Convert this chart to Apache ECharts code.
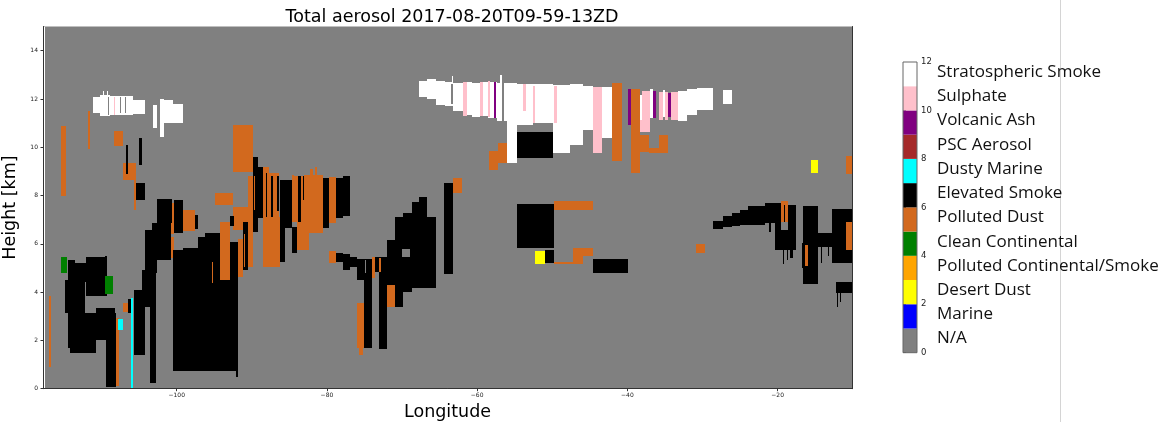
<!DOCTYPE html>
<html>
<head>
<meta charset="utf-8">
<script src="https://cdn.jsdelivr.net/npm/echarts@6/dist/echarts.min.js"></script>
<style>
  html, body { margin: 0; padding: 0; background: #ffffff; }
  #chart { width: 1167px; height: 422px; }
</style>
</head>
<body>
<div id="chart"></div>
<script>
// Aerosol subtype classes (index = class value on the colour bar)
const classNames = ['N/A', 'Marine', 'Desert Dust', 'Polluted Continental/Smoke', 'Clean Continental',
  'Polluted Dust', 'Elevated Smoke', 'Dusty Marine', 'PSC Aerosol', 'Volcanic Ash', 'Sulphate', 'Stratospheric Smoke'];
const classColors = ['#808080', '#0000ff', '#ffff00', '#ffa500', '#008000', '#d2691e',
  '#000000', '#00ffff', '#a52a2a', '#800080', '#ffc0cb', '#ffffff'];

const lonTicks = [-100, -80, -60, -40, -20];
const heightTicks = [0, 2, 4, 6, 8, 10, 12, 14];
const colorbarTicks = [0, 2, 4, 6, 8, 10, 12];

// Layer cells: [lonWest, lonEast, heightBottom, heightTop] in degrees / km
const stratosphericSmoke = [
  [-117.8, -117.6, 0, 15],
  [-111.18, -110.21, 11.41, 12.08], [-110.21, -108.88, 11.30, 12.17], [-108.88, -105.78, 11.34, 12.13],
  [-105.78, -104.22, 11.37, 11.96], [-109.8, -109.65, 12.1, 12.32], [-109.3, -109.15, 12.1, 12.32],
  [-103.15, -102.62, 10.80, 11.76], [-102.22, -101.68, 10.43, 12.01], [-101.68, -99.16, 11.01, 11.80],
  [-101.68, -100.49, 11.75, 11.96],
  [-67.71, -66.72, 12.10, 12.76], [-66.72, -65.48, 11.99, 12.83], [-65.48, -64.28, 11.76, 12.76],
  [-64.28, -63.18, 11.69, 12.72], [-63.18, -61.85, 11.48, 12.68], [-61.85, -60.73, 11.34, 12.72],
  [-60.73, -59.63, 11.27, 12.68], [-59.63, -58.52, 11.30, 12.72], [-58.52, -57.40, 11.21, 12.72],
  [-57.40, -56.07, 11.07, 12.68], [-56.07, -54.74, 9.34, 12.66], [-54.74, -52.53, 10.93, 12.63],
  [-52.53, -49.87, 11.00, 12.63], [-49.87, -47.65, 9.76, 12.59], [-47.65, -45.88, 10.10, 12.63],
  [-45.88, -44.63, 10.72, 12.52], [-43.43, -42.10, 10.38, 12.49], [-38.33, -38.0, 11.14, 12.17],
  [-37.0, -36.56, 11.21, 12.41], [-35.2, -35.0, 11.25, 12.35], [-33.23, -32.11, 11.07, 12.31],
  [-32.11, -30.78, 11.34, 12.41], [-30.78, -28.57, 11.55, 12.45], [-27.32, -26.12, 11.79, 12.35],
  [-63.4, -63.25, 12.6, 12.95], [-56.9, -56.75, 12.6, 12.98]
];

const sulphate = [
  [-108.35, -108.2, 11.35, 12.1], [-61.9, -61.4, 11.3, 12.7], [-59.63, -59.2, 11.3, 12.7],
  [-58.6, -58.35, 11.25, 12.75], [-53.86, -53.5, 11.5, 12.6], [-52.53, -52.3, 11.0, 12.55],
  [-49.78, -49.42, 11.0, 12.55], [-44.63, -43.43, 9.76, 12.49], [-38.0, -37.0, 10.65, 12.31],
  [-38.33, -38.0, 10.65, 11.14], [-35.76, -35.2, 11.14, 12.30], [-35.0, -34.56, 11.14, 12.30],
  [-34.15, -33.23, 11.14, 12.30]
];

const pollutedDust = [
  [-115.35, -114.75, 7.96, 10.87], [-111.81, -111.5, 9.92, 11.48], [-108.35, -107.15, 10.07, 10.68],
  [-107.15, -105.38, 8.65, 9.34], [-105.72, -105.38, 7.40, 8.65], [-116.98, -116.69, 0.91, 3.84],
  [-108.08, -107.72, 0.12, 2.92], [-107.11, -106.35, 3.19, 3.54], [-100.7, -100.3, 6.4, 7.7],
  [-99.2, -97.6, 6.55, 7.4], [-100.75, -100.4, 5.4, 6.3], [-94.9, -92.51, 7.61, 8.10],
  [-92.51, -89.8, 8.98, 10.93], [-94.24, -92.91, 4.5, 6.92], [-92.5, -90.47, 6.58, 7.54],
  [-91.84, -91.13, 4.64, 6.2], [-90.47, -89.8, 5.06, 8.79], [-88.47, -87.67, 5.9, 9.2],
  [-88.47, -86.25, 5.06, 7.13], [-87.67, -86.34, 5.26, 8.93], [-84.69, -84.38, 6.9, 8.86],
  [-84.38, -83.06, 6.9, 8.79], [-84.03, -82.35, 5.75, 7.0], [-83.06, -80.57, 6.44, 8.86],
  [-82.2, -81.8, 8.86, 9.1], [-81.6, -81.3, 8.86, 9.2], [-79.69, -78.80, 6.85, 8.76],
  [-79.69, -78.80, 5.20, 5.71], [-75.96, -75.07, 1.67, 3.54], [-75.7, -75.2, 1.4, 1.67],
  [-74.04, -73.6, 4.57, 5.47], [-72.05, -70.94, 3.40, 4.30], [-63.18, -62.06, 8.10, 8.72],
  [-58.39, -57.19, 9.06, 9.86], [-57.19, -56.07, 9.34, 10.19], [-42.10, -40.77, 9.45, 12.65],
  [-39.57, -38.33, 8.93, 12.41], [-38.33, -37.09, 9.82, 10.51], [-37.09, -35.76, 9.75, 9.96],
  [-35.76, -34.56, 9.75, 10.51], [-49.78, -44.63, 7.38, 7.79], [-47.21, -44.63, 5.5, 5.82],
  [-47.21, -45.9, 5.17, 5.5], [-49.78, -47.21, 5.17, 5.24], [-30.87, -29.68, 5.61, 6.00],
  [-10.91, -10.11, 8.90, 9.64], [-19.56, -18.58, 6.92, 7.79]
];

const elevatedSmoke = [
  [-106.79, -106.44, 8.9, 10.1], [-105.02, -104.66, 9.26, 10.4], [-105.38, -104.26, 7.81, 8.52],
  [-102.66, -100.67, 6.85, 7.86], [-103.33, -100.75, 5.33, 6.87], [-104.22, -102.66, 4.78, 6.57],
  [-104.6, -102.76, 4.09, 4.92], [-105.68, -102.76, 3.40, 4.09], [-105.68, -104.26, 1.40, 3.40],
  [-103.55, -102.76, 0.24, 3.40], [-106.44, -106.12, 3.12, 3.70], [-100.3, -99.2, 6.45, 7.8],
  [-97.6, -97.2, 6.6, 7.2],
  [-114.87, -114.47, 3.13, 4.5], [-114.47, -113.54, 1.67, 5.33], [-113.54, -112.07, 4.43, 5.2],
  [-113.54, -112.2, 3.13, 4.43], [-112.07, -109.28, 3.84, 5.45], [-109.54, -109.28, 4.67, 5.5],
  [-114.2, -110.7, 1.48, 3.13], [-110.7, -108.25, 2.02, 3.33], [-109.37, -108.08, 0.08, 3.12],
  [-100.49, -91.80, 0.75, 4.5], [-92.1, -91.80, 0.5, 0.75], [-100.49, -99.16, 4.5, 5.75],
  [-99.16, -97.16, 4.5, 5.83], [-97.16, -96.23, 4.5, 6.30], [-96.23, -94.24, 4.5, 6.45],
  [-92.91, -91.84, 4.5, 6.09], [-92.91, -92.4, 6.75, 7.15], [-91.13, -90.47, 4.92, 6.92],
  [-89.88, -89.14, 6.51, 9.61], [-89.14, -88.47, 7.06, 9.20], [-88.15, -87.94, 7.13, 8.93],
  [-87.4, -87.14, 7.13, 8.79], [-86.69, -86.34, 7.34, 8.79], [-86.25, -85.58, 5.26, 8.65],
  [-85.58, -84.69, 6.65, 8.65], [-84.69, -84.03, 5.61, 6.71], [-83.8, -83.4, 6.9, 8.79],
  [-83.2, -83.0, 7.8, 8.79], [-80.57, -79.69, 6.65, 8.72], [-78.80, -77.90, 7.06, 8.72],
  [-77.90, -76.93, 7.16, 8.79],
  [-78.80, -77.90, 5.26, 5.64], [-77.90, -76.93, 4.92, 5.57], [-76.93, -75.96, 5.06, 5.47],
  [-75.96, -75.07, 4.50, 5.36], [-75.07, -74.04, 1.67, 5.36], [-73.6, -73.03, 4.85, 5.47],
  [-73.03, -72.05, 1.63, 5.47], [-72.05, -70.94, 4.30, 6.16], [-70.94, -69.88, 3.40, 7.13],
  [-69.88, -68.72, 4.02, 7.27], [-68.72, -67.71, 4.16, 7.75], [-67.71, -66.64, 4.16, 7.92],
  [-66.64, -65.48, 4.16, 7.13], [-64.38, -63.18, 4.75, 8.51],
  [-54.74, -49.87, 9.55, 10.65], [-54.74, -49.78, 5.82, 7.64], [-50.98, -49.78, 5.20, 5.75],
  [-44.63, -39.89, 4.81, 5.36],
  [-28.57, -27.32, 6.61, 6.95], [-27.32, -26.12, 6.69, 7.16], [-26.12, -25.02, 6.74, 7.27],
  [-25.02, -23.91, 6.78, 7.38], [-23.91, -21.69, 6.78, 7.57], [-21.69, -19.56, 6.85, 7.68],
  [-21.2, -20.9, 6.5, 6.85], [-20.36, -17.69, 5.75, 6.58], [-20.36, -19.56, 6.5, 6.9],
  [-19.2, -19.0, 6.92, 7.6], [-18.58, -17.56, 5.75, 7.61], [-19.3, -19.1, 5.15, 5.75],
  [-18.8, -18.6, 5.35, 5.75], [-18.3, -18.0, 5.4, 5.75], [-16.59, -14.60, 4.34, 7.57],
  [-16.80, -16.59, 5.0, 6.03], [-14.60, -12.60, 5.88, 6.44], [-14.25, -14.1, 5.2, 5.88],
  [-13.3, -13.1, 5.5, 5.88], [-12.81, -10.11, 5.20, 7.43], [-12.24, -10.11, 3.95, 4.43],
  [-12.1, -11.9, 3.4, 3.95], [-11.7, -11.5, 3.6, 3.95]
];

// Polluted-dust cells embedded inside smoke layers
const dustStreaks = [
  [-95.34, -95.13, 4.39, 5.26], [-91.0, -90.85, 5.05, 6.4], [-89.75, -89.6, 7.4, 8.8],
  [-73.03, -72.77, 4.85, 5.4], [-16.32, -16.0, 5.08, 5.96], [-10.91, -10.11, 5.75, 6.92]
];

const volcanicAsh = [
  [-57.75, -57.44, 11.21, 12.72], [-39.89, -39.57, 10.93, 12.41],
  [-36.56, -36.25, 11.21, 12.31], [-34.56, -34.15, 11.25, 12.24]
];

const dustyMarine = [[-107.77, -107.19, 2.43, 2.89], [-106.08, -105.78, 0, 3.77]];
const cleanContinental = [[-115.40, -114.60, 4.78, 5.47], [-109.54, -108.44, 3.92, 4.67]];
const desertDust = [[-52.31, -50.98, 5.17, 5.72], [-15.57, -14.60, 8.95, 9.48]];

// Unclassified gaps inside layers
const noData = [
  [-69.95, -68.9, 5.47, 5.78], [-56.7, -56.45, 11.07, 12.7], [-63.45, -63.25, 11.8, 12.6],
  [-74.95, -74.75, 4.8, 5.33], [-109.1, -108.95, 11.35, 12.1], [-107.55, -107.4, 11.4, 12.1],
  [-106.9, -106.75, 11.4, 12.1]
];

// Draw order: later layers paint over earlier ones
const layers = [
  { data: stratosphericSmoke, cls: 11 },
  { data: sulphate, cls: 10 },
  { data: pollutedDust, cls: 5 },
  { data: elevatedSmoke, cls: 6 },
  { data: dustStreaks, cls: 5 },
  { data: volcanicAsh, cls: 9 },
  { data: dustyMarine, cls: 7 },
  { data: cleanContinental, cls: 4 },
  { data: desertDust, cls: 2 },
  { data: noData, cls: 0 }
];

const LON_MIN = -117.8, LON_MAX = -10.1;
const FONT = 'DejaVu Sans';

function cellRenderer(color) {
  return function (params, api) {
    const a = api.coord([api.value(0), api.value(3)]);
    const b = api.coord([api.value(1), api.value(2)]);
    const x0 = Math.round(a[0]), y0 = Math.round(a[1]);
    const x1 = Math.round(b[0]), y1 = Math.round(b[1]);
    return {
      type: 'rect',
      shape: { x: x0, y: y0, width: Math.max(1, x1 - x0), height: Math.max(1, y1 - y0) },
      style: { fill: color }
    };
  };
}

const minus = v => String(v).replace('-', '\u2212');

const curtainSeries = layers.map(l => ({
  type: 'custom',
  xAxisIndex: 0, yAxisIndex: 0,
  silent: true, clip: true,
  renderItem: cellRenderer(classColors[l.cls]),
  data: l.data
}));

const colorbarSeries = {
  type: 'custom',
  xAxisIndex: 1, yAxisIndex: 1,
  silent: true, clip: false,
  data: classNames.map((n, i) => [i]),
  renderItem: function (params, api) {
    const i = api.value(0);
    const tl = api.coord([0, i + 1]);
    const br = api.coord([1, i]);
    const children = [
      { type: 'rect', shape: { x: tl[0], y: tl[1], width: br[0] - tl[0], height: br[1] - tl[1] },
        style: { fill: classColors[i] } },
      { type: 'text', x: br[0] + 20, y: (tl[1] + br[1]) / 2 - 2,
        style: { text: classNames[i], fontFamily: 'Open Sans', fontSize: 17, fill: '#111',
                 align: 'left', verticalAlign: 'middle' } }
    ];
    if (i === classNames.length - 1) {
      const top = api.coord([0, classNames.length]);
      const bottom = api.coord([1, 0]);
      children.push({ type: 'rect', shape: { x: top[0], y: top[1], width: bottom[0] - top[0], height: bottom[1] - top[1] },
        style: { fill: 'none', stroke: '#666', lineWidth: 1 }, z2: 10 });
    }
    return { type: 'group', children };
  }
};

const frameLine = { show: true, lineStyle: { color: '#333', width: 1 } };

const option = {
  animation: false,
  backgroundColor: '#ffffff',
  title: {
    text: 'Total aerosol 2017-08-20T09-59-13ZD',
    left: 447, textAlign: 'center', top: 3,
    textStyle: { fontFamily: FONT, fontSize: 17.5, fontWeight: 'normal', color: '#000' }
  },
  grid: [
    { left: 43, top: 26.5, width: 809, height: 362.2, show: true, backgroundColor: '#808080', borderWidth: 0,
      containLabel: false, outerBoundsMode: 'none' },
    { left: 903, top: 62, width: 14, height: 290.7, show: false, containLabel: false, outerBoundsMode: 'none' }
  ],
  xAxis: [
    {
      type: 'value', gridIndex: 0, min: LON_MIN, max: LON_MAX, z: 5,
      name: 'Longitude', nameLocation: 'middle', nameGap: 12,
      nameTextStyle: { fontFamily: FONT, fontSize: 17.5, color: '#000' },
      axisLine: frameLine,
      axisTick: { show: true, customValues: lonTicks, length: 2.5, lineStyle: { color: '#333' } },
      axisLabel: { customValues: lonTicks, formatter: minus, fontFamily: FONT, fontSize: 6, color: '#222', margin: 4 },
      splitLine: { show: false }
    },
    { type: 'value', gridIndex: 1, min: 0, max: 1, show: false },
    {
      type: 'value', gridIndex: 0, min: LON_MIN, max: LON_MAX, position: 'top', z: 5,
      axisLine: frameLine, axisTick: { show: false }, axisLabel: { show: false }, splitLine: { show: false }
    }
  ],
  yAxis: [
    {
      type: 'value', gridIndex: 0, min: 0, max: 15, z: 5,
      name: 'Height [km]', nameLocation: 'middle', nameGap: 16,
      nameTextStyle: { fontFamily: FONT, fontSize: 17.5, color: '#000' },
      axisLine: frameLine,
      axisTick: { show: true, customValues: heightTicks, length: 2.5, lineStyle: { color: '#333' } },
      axisLabel: { customValues: heightTicks, fontFamily: FONT, fontSize: 6, color: '#222', margin: 5 },
      splitLine: { show: false }
    },
    {
      type: 'value', gridIndex: 1, min: 0, max: 12, position: 'right',
      axisLine: { show: false },
      axisTick: { show: true, customValues: colorbarTicks, length: 3, lineStyle: { color: '#444' } },
      axisLabel: { customValues: colorbarTicks, fontFamily: FONT, fontSize: 8.5, color: '#222', margin: 4 },
      splitLine: { show: false }
    },
    {
      type: 'value', gridIndex: 0, min: 0, max: 15, position: 'right', z: 5,
      axisLine: frameLine, axisTick: { show: false }, axisLabel: { show: false }, splitLine: { show: false }
    }
  ],
  graphic: [
    { type: 'line', shape: { x1: 1060.5, y1: 0, x2: 1060.5, y2: 422 }, style: { stroke: '#d4d4d4', lineWidth: 1 } }
  ],
  series: curtainSeries.concat([colorbarSeries])
};

const chart = echarts.init(document.getElementById('chart'), null, { renderer: 'canvas' });
chart.setOption(option);
</script>
</body>
</html>
